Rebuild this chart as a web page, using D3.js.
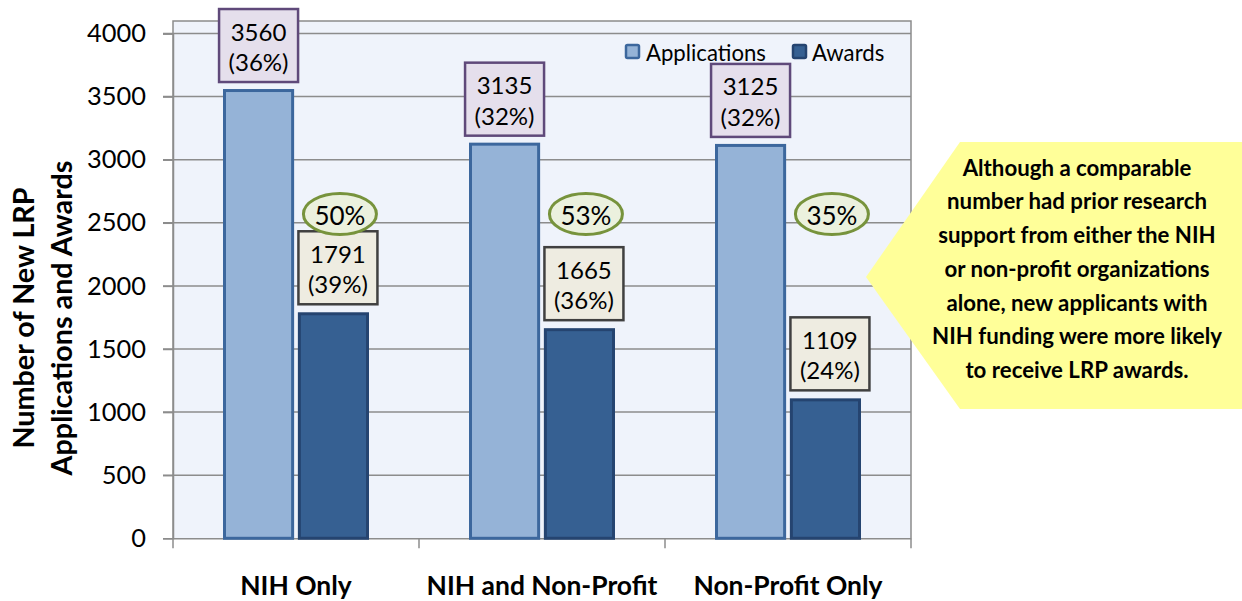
<!DOCTYPE html>
<html>
<head>
<meta charset="utf-8">
<script src="https://cdn.jsdelivr.net/npm/d3@7"></script>
<style>
  html, body { margin: 0; padding: 0; background: #ffffff; }
  svg { display: block; }
  text { font-family: Lato, "Open Sans", sans-serif; fill: #000; }
</style>
</head>
<body>
<svg id="chart" width="1242" height="601"></svg>
<script>
// ---------------- data ----------------
const categories = ["NIH Only", "NIH and Non-Profit", "Non-Profit Only"];
const seriesNames = ["Applications", "Awards"];
const applications = [3560, 3135, 3125];
const awards = [1791, 1665, 1109];
const applicationShares = ["36%", "32%", "32%"];
const awardShares = ["39%", "36%", "24%"];
const successRates = ["50%", "53%", "35%"];
const yTicks = [0, 500, 1000, 1500, 2000, 2500, 3000, 3500, 4000];
const yTitleLines = ["Number of New LRP", "Applications and Awards"];
const calloutLines = [
  "Although a comparable",
  "number had prior research",
  "support from either the NIH",
  "or non-profit organizations",
  "alone, new applicants with",
  "NIH funding were more likely",
  "to receive LRP awards."
];

// ---------------- layout ----------------
const W = 1242, H = 601;
const plot = { left: 173, right: 911, top: 21, bottom: 538.3 };
const colors = {
  plotBg: "#eff3fb", grid: "#8c8c8c",
  appFill: "#95b3d7", appStroke: "#3c679d",
  awdFill: "#366092", awdStroke: "#254470",
  appBoxFill: "#e5dfec", appBoxStroke: "#5f497a",
  awdBoxFill: "#eeece1", awdBoxStroke: "#404040",
  ellFill: "#ebf1de", ellStroke: "#77933c",
  callout: "#ffff99"
};

const svg = d3.select("#chart");

function fit(sel, target) {
  // scale font-size so the measured width equals the target width
  const node = sel.node();
  const cur = parseFloat(sel.style("font-size"));
  const w = node.getComputedTextLength();
  return cur * target / w;
}

const y = d3.scaleLinear().domain([0, 4000]).range([plot.bottom, 33.5]);
const x0 = d3.scaleBand().domain(categories).range([plot.left, plot.right]).padding(0);
const x1 = d3.scaleBand().domain(seriesNames).range([50, 196]).paddingInner(0.05);

// plot background
svg.append("rect")
  .attr("x", plot.left).attr("y", plot.top)
  .attr("width", plot.right - plot.left).attr("height", plot.bottom - plot.top)
  .attr("fill", colors.plotBg);

// gridlines
svg.append("g").selectAll("line").data(yTicks.filter(d => d > 0)).join("line")
  .attr("x1", plot.left - 10).attr("x2", plot.right)
  .attr("y1", d => y(d)).attr("y2", d => y(d))
  .attr("stroke", colors.grid).attr("stroke-width", 1.5);

// plot border (top / right / left)
svg.append("path")
  .attr("d", `M${plot.left},${plot.bottom}V${plot.top}H${plot.right}V${plot.bottom}`)
  .attr("fill", "none").attr("stroke", colors.grid).attr("stroke-width", 1.5);

// y axis
const yAxis = svg.append("g").attr("transform", `translate(${plot.left},0)`)
  .call(d3.axisLeft(y).tickValues(yTicks).tickSize(10).tickPadding(17).tickFormat(d3.format("d")));
yAxis.select(".domain").attr("stroke", colors.grid).attr("stroke-width", 1.5);
yAxis.selectAll(".tick line").attr("stroke", colors.grid).attr("stroke-width", 1.5);
yAxis.selectAll(".tick text").style("font-family", "Lato").style("font-size", "24px").attr("fill", "#000");
{
  const t = yAxis.selectAll(".tick text").filter(d => d === 4000);
  const fs = fit(t, 59);
  yAxis.selectAll(".tick text").style("font-size", fs + "px");
}

// x axis
const xAxis = svg.append("g").attr("transform", `translate(0,${plot.bottom})`)
  .call(d3.axisBottom(x0).tickSize(0).tickFormat(""));
xAxis.select(".domain").attr("stroke", colors.grid).attr("stroke-width", 1.5);
xAxis.selectAll(".tick").remove();
svg.append("g").selectAll("line")
  .data(categories.map(c => x0(c)).concat([x0(categories[categories.length - 1]) + x0.bandwidth()]))
  .join("line")
  .attr("x1", d => d).attr("x2", d => d)
  .attr("y1", plot.bottom).attr("y2", plot.bottom + 10)
  .attr("stroke", colors.grid).attr("stroke-width", 1.5);

const xLabels = svg.append("g").selectAll("text").data(categories).join("text")
  .attr("x", d => x0(d) + x0.bandwidth() / 2)
  .attr("y", 585)
  .attr("text-anchor", "middle").attr("dominant-baseline", "central")
  .style("font-weight", "bold").style("font-size", "22px")
  .text(d => d);
{
  const fs = fit(xLabels.filter(d => d === "NIH and Non-Profit"), 231);
  xLabels.style("font-size", fs + "px");
}

// y title
const yTitle = svg.append("g").attr("transform", "translate(42,318) rotate(-90)");
const yTitleText = yTitle.selectAll("text").data(yTitleLines).join("text")
  .attr("x", 0).attr("y", (d, i) => (i - 0.5) * 38)
  .attr("text-anchor", "middle").attr("dominant-baseline", "central")
  .style("font-weight", "bold").style("font-size", "26px")
  .text(d => d);
{
  const fs = fit(yTitleText.filter((d, i) => i === 1), 315);
  yTitleText.style("font-size", fs + "px");
}

// bars
const rows = categories.map((c, i) => ({ cat: c, i, values: [applications[i], awards[i]] }));
const groups = svg.append("g").selectAll("g").data(rows).join("g")
  .attr("transform", d => `translate(${x0(d.cat)},0)`);
groups.selectAll("rect").data(d => d.values.map((v, k) => ({ s: seriesNames[k], v, k }))).join("rect")
  .attr("x", d => x1(d.s) + 1.5)
  .attr("width", x1.bandwidth() - 3)
  .attr("y", d => y(d.v) + 1.5)
  .attr("height", d => y(0) - y(d.v) - 1.5)
  .attr("fill", d => d.k === 0 ? colors.appFill : colors.awdFill)
  .attr("stroke", d => d.k === 0 ? colors.appStroke : colors.awdStroke)
  .attr("stroke-width", 3);

// data label boxes
const boxW = 79, boxH = 73;
function labelBox(g, cx, bottom, fill, stroke, l1, l2) {
  const top = bottom - boxH;
  g.append("rect").attr("x", cx - boxW / 2).attr("y", top)
    .attr("width", boxW).attr("height", boxH)
    .attr("fill", fill).attr("stroke", stroke).attr("stroke-width", 2.5);
  g.append("text").attr("class", "lbl").attr("x", cx).attr("y", top + boxH / 2 - 14.5)
    .attr("text-anchor", "middle").attr("dominant-baseline", "central").text(l1);
  g.append("text").attr("class", "lbl").attr("x", cx).attr("y", top + boxH / 2 + 16)
    .attr("text-anchor", "middle").attr("dominant-baseline", "central").text(l2);
}
const labels = svg.append("g");
rows.forEach((r, i) => {
  const appCx = x0(r.cat) + x1("Applications") + x1.bandwidth() / 2;
  const awdCx = x0(r.cat) + x1("Awards") + x1.bandwidth() / 2 + 4.5;
  labelBox(labels, appCx, y(applications[i]) - 7, colors.appBoxFill, colors.appBoxStroke,
    String(applications[i]), "(" + applicationShares[i] + ")");
  labelBox(labels, awdCx, y(awards[i]) - 8, colors.awdBoxFill, colors.awdBoxStroke,
    String(awards[i]), "(" + awardShares[i] + ")");
  // success-rate ellipse
  labels.append("ellipse").attr("cx", awdCx + 2).attr("cy", y(2570))
    .attr("rx", 36.5).attr("ry", 20.5)
    .attr("fill", colors.ellFill).attr("stroke", colors.ellStroke).attr("stroke-width", 3);
  labels.append("text").attr("class", "ell").attr("x", awdCx + 2).attr("y", y(2570) + 1)
    .attr("text-anchor", "middle").attr("dominant-baseline", "central").text(successRates[i]);
});
labels.selectAll("text.lbl").style("font-size", "22px");
{
  const fs = fit(labels.selectAll("text.lbl").filter(function () { return this.textContent === "(36%)"; }), 60);
  labels.selectAll("text.lbl").style("font-size", fs + "px");
}
labels.selectAll("text.ell").style("font-size", "22px");
{
  const fs = fit(labels.selectAll("text.ell").filter(function () { return this.textContent === "50%"; }), 51);
  labels.selectAll("text.ell").style("font-size", fs + "px");
}

// legend
const legendPos = [{ sx: 625, tx: 646 }, { sx: 792, tx: 812 }];
const legend = svg.append("g");
seriesNames.forEach((s, k) => {
  legend.append("rect").attr("x", legendPos[k].sx + 1).attr("y", 45)
    .attr("width", 13).attr("height", 13).attr("rx", 1.5)
    .attr("fill", k === 0 ? colors.appFill : colors.awdFill)
    .attr("stroke", k === 0 ? colors.appStroke : colors.awdStroke).attr("stroke-width", 2.5);
  legend.append("text").attr("class", "leg").attr("x", legendPos[k].tx).attr("y", 52)
    .attr("dominant-baseline", "central").text(s);
});
legend.selectAll("text.leg").style("font-size", "20px");
{
  const fs = fit(legend.selectAll("text.leg").filter(function () { return this.textContent === "Applications"; }), 120);
  legend.selectAll("text.leg").style("font-size", fs + "px");
}

// callout
svg.append("polygon")
  .attr("points", [[866, 277], [960, 142], [1242, 142], [1242, 409], [960, 409]].map(p => p.join(",")).join(" "))
  .attr("fill", colors.callout);
const callout = svg.append("g").selectAll("text").data(calloutLines).join("text")
  .attr("x", 1077).attr("y", (d, i) => 167 + i * 33.75)
  .attr("text-anchor", "middle").attr("dominant-baseline", "central")
  .style("font-weight", "bold").style("font-size", "19px")
  .text(d => d);
{
  const fs = fit(callout.filter(d => d === "NIH funding were more likely"), 290);
  callout.style("font-size", fs + "px");
}
</script>
</body>
</html>
